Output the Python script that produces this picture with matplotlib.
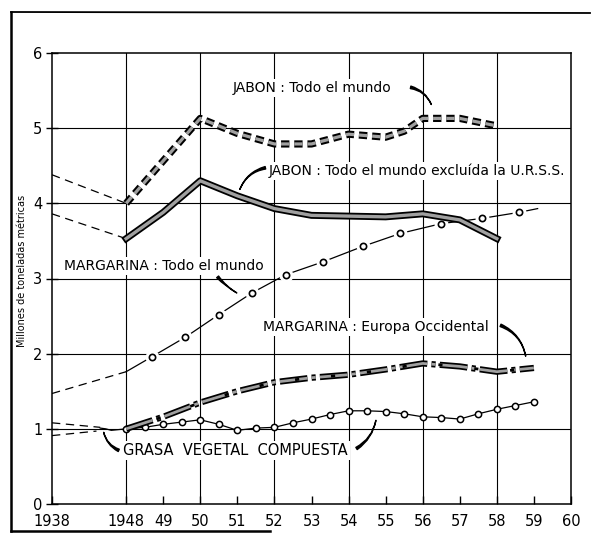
import matplotlib
matplotlib.use("Agg")
import matplotlib.pyplot as plt
import matplotlib.patheffects as pe
from matplotlib.lines import Line2D

plt.rcParams["lines.scale_dashes"] = False
plt.rcParams["font.family"] = "DejaVu Sans"

# x positions: 1948 = 0, one unit per year; 1938 is squeezed to -2
tick_pos = [-2, 0, 1, 2, 3, 4, 5, 6, 7, 8, 9, 10, 11, 12]
tick_labels = ["1938", "1948", "49", "50", "51", "52", "53", "54", "55", "56", "57", "58", "59", "60"]
y_ticks = [0, 1, 2, 3, 4, 5, 6]

# JABON: Todo el mundo
jab_x = [0, 2, 3, 4, 5, 6, 7, 7.5, 8, 9, 10]
jab_y = [4.0, 5.13, 4.93, 4.79, 4.79, 4.92, 4.88, 4.96, 5.13, 5.13, 5.03]
jab_pre_x = [-2, 0]
jab_pre_y = [4.38, 4.0]

# JABON: Todo el mundo excluida la URSS
jex_x = [0, 1, 2, 3, 4, 5, 6, 7, 8, 9, 10]
jex_y = [3.53, 3.88, 4.3, 4.1, 3.93, 3.84, 3.83, 3.82, 3.86, 3.78, 3.53]
jex_pre_x = [-2, 0]
jex_pre_y = [3.86, 3.53]

# MARGARINA: Todo el mundo
mar_x = [0, 0.7, 1.6, 2.5, 3.4, 4.3, 5.3, 6.4, 7.4, 8.5, 9.6, 10.6, 11.1]
mar_y = [1.76, 1.96, 2.22, 2.52, 2.81, 3.05, 3.22, 3.43, 3.6, 3.73, 3.8, 3.88, 3.93]
mar_pre_x = [-2, 0]
mar_pre_y = [1.47, 1.76]

# MARGARINA: Europa Occidental
meu_x = [0, 1, 2, 3, 4, 5, 6, 7, 8, 9, 10, 11]
meu_y = [1.0, 1.16, 1.35, 1.5, 1.62, 1.68, 1.72, 1.79, 1.87, 1.83, 1.76, 1.81]

# GRASA VEGETAL COMPUESTA
gra_x = [0, 0.5, 1, 1.5, 2, 2.5, 3, 3.5, 4, 4.5, 5, 5.5, 6, 6.5, 7, 7.5, 8, 8.5, 9, 9.5, 10, 10.5, 11]
gra_y = [1.0, 1.02, 1.06, 1.09, 1.12, 1.06, 0.98, 1.01, 1.02, 1.08, 1.13, 1.19, 1.24, 1.24, 1.23,
         1.2, 1.16, 1.15, 1.13, 1.2, 1.26, 1.31, 1.36]
gra_pre_hi_x = [-2, -0.7]
gra_pre_hi_y = [1.08, 1.02]
gra_pre_lo_x = [-2, -0.8]
gra_pre_lo_y = [0.91, 0.97]
gra_link_x = [-0.7, -0.55, -0.4, 0]
gra_link_y = [1.01, 1.0, 0.98, 1.0]

fig = plt.figure(figsize=(5.96, 5.42), dpi=100)
ax = fig.add_axes([52 / 596, 1 - 504 / 542, (571 - 52) / 596, (504 - 53) / 542])
ax.set_xlim(-2, 12)
ax.set_ylim(0, 6)

# grid
for gx in [0, 2, 4, 6, 8, 10]:
    ax.axvline(gx, color="black", lw=0.8, zorder=1)
for gy in [1, 2, 3, 4, 5]:
    ax.axhline(gy, color="black", lw=0.8, zorder=1)
for s in ax.spines.values():
    s.set_linewidth(1.1)

ax.set_xticks(tick_pos)
ax.set_xticklabels(tick_labels, fontsize=10.5)
ax.set_yticks(y_ticks)
ax.set_yticklabels([str(v) for v in y_ticks], fontsize=10.5)
ax.tick_params(axis="x", direction="in", length=6, width=1, pad=7)
ax.tick_params(axis="y", direction="inout", length=8, width=1, pad=3)

thin_dash = dict(color="black", lw=0.9, dashes=(6, 4), zorder=6)
for xs, ys in [(jab_pre_x, jab_pre_y), (jex_pre_x, jex_pre_y), (mar_pre_x, mar_pre_y),
               (gra_pre_hi_x, gra_pre_hi_y), (gra_pre_lo_x, gra_pre_lo_y)]:
    ax.plot(xs, ys, **thin_dash)
ax.plot(gra_link_x, gra_link_y, color="black", lw=0.9, zorder=6)

# thick outlined lines: black underneath, grey on top, same dash pattern
ax.plot(jab_x, jab_y, color="black", lw=5.2, dashes=(6, 3.5), dash_capstyle="butt", zorder=7)
ax.plot(jab_x, jab_y, color="#a0a0a0", lw=2.3, dashes=(6, 3.5), dash_capstyle="butt", zorder=7)

ax.plot(jex_x, jex_y, color="#a0a0a0", lw=2.4,
        path_effects=[pe.Stroke(linewidth=5, foreground="black"), pe.Normal()], zorder=7)

ax.plot(meu_x, meu_y, color="black", lw=4.5, dashes=(20, 3, 3, 3), dash_capstyle="butt", zorder=7)
ax.plot(meu_x, meu_y, color="#a0a0a0", lw=2.0, dashes=(20, 3, 3, 3), dash_capstyle="butt", zorder=7)
ax.plot(meu_x, meu_y, color="black", lw=2.0, dashes=(0, 23, 3, 0), dash_capstyle="butt", zorder=7)

ax.plot(mar_x, mar_y, color="black", lw=0.9, zorder=6)
ax.plot(mar_x[1:-1], mar_y[1:-1], ls="none", marker="o", ms=9, mfc="white", mec="white", zorder=6)
ax.plot(mar_x[1:-1], mar_y[1:-1], ls="none", marker="o", ms=4.5, mfc="white", mec="black", mew=1.2, zorder=6)

ax.plot(gra_x, gra_y, color="black", lw=0.9, marker="o", ms=4.5, mfc="white", mec="black",
        mew=1.1, zorder=6)

lab = dict(fontsize=10, ha="left", va="center", zorder=4,
           bbox=dict(facecolor="white", edgecolor="none", pad=1.5))
ax.text(2.88, 5.53, "JABON : Todo el mundo", **lab)
ax.text(3.85, 4.43, "JABON : Todo el mundo excluída la U.R.S.S.", **lab)
ax.text(-1.67, 3.17, "MARGARINA : Todo el mundo", **lab)
ax.text(3.69, 2.36, "MARGARINA : Europa Occidental", **lab)
ax.text(-0.08, 0.71, "GRASA  VEGETAL  COMPUESTA", fontsize=10.5, ha="left", va="center", zorder=4,
        bbox=dict(facecolor="white", edgecolor="none", pad=1.5))

wedge = dict(arrowstyle="wedge,tail_width=0.18,shrink_factor=0.3", color="black")
for start, end, rad in [((7.6, 5.55), (8.26, 5.28), -0.3),
                        ((3.83, 4.48), (3.04, 4.15), 0.3),
                        ((2.42, 3.05), (3.05, 2.79), 0.1),
                        ((10.03, 2.39), (10.79, 1.93), -0.3),
                        ((-0.13, 0.70), (-0.62, 0.99), -0.3),
                        ((6.15, 0.72), (6.75, 1.15), 0.25)]:
    ax.annotate("", xy=end, xytext=start, zorder=8,
                arrowprops=dict(connectionstyle="arc3,rad=%s" % rad, **wedge))

fig.text(22 / 596, 1 - 271 / 542, "Millones de toneladas métricas", rotation=90,
         fontsize=7, ha="center", va="center")

# scanned page frame
fig.add_artist(Line2D([11 / 596, 11 / 596], [1 - 531 / 542, 1 - 12 / 542], color="black", lw=1.8))
fig.add_artist(Line2D([11 / 596, 590 / 596], [1 - 12 / 542, 1 - 13 / 542], color="black", lw=1.3))
fig.add_artist(Line2D([11 / 596, 270 / 596], [1 - 531 / 542, 1 - 531 / 542], color="black", lw=1.8))

fig.savefig("out.png", dpi=100)
